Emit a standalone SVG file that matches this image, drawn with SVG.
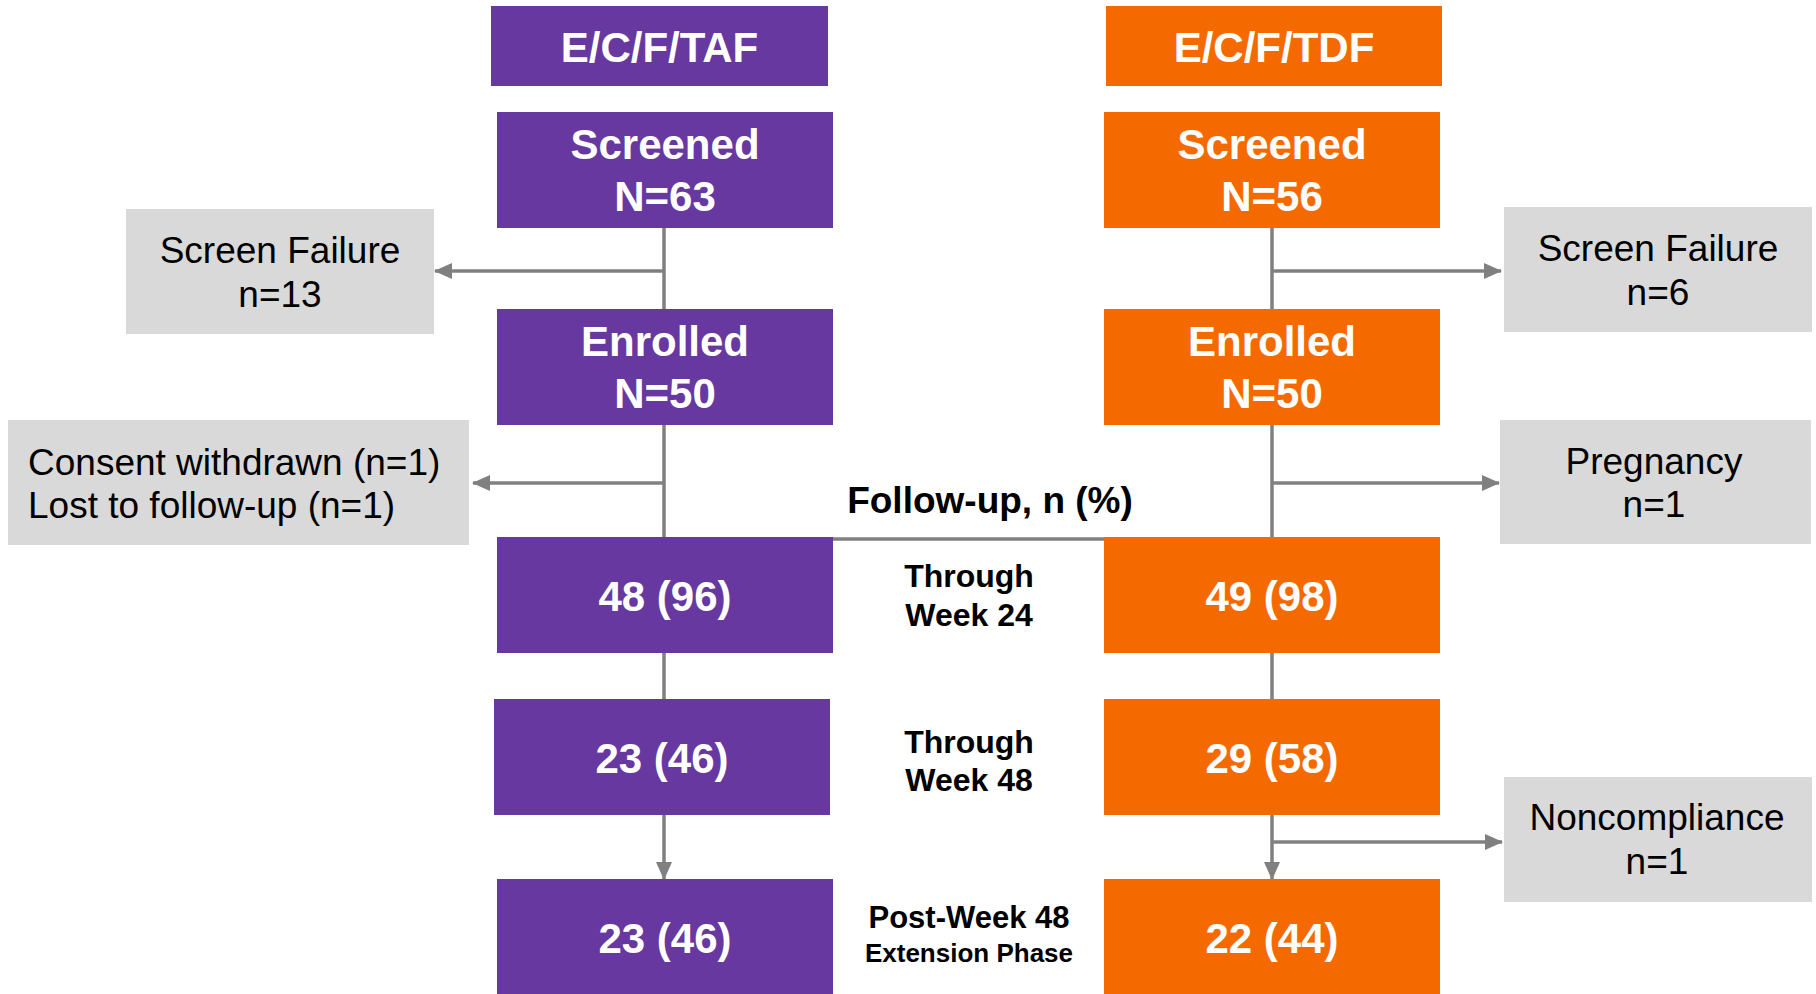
<svg xmlns="http://www.w3.org/2000/svg" width="1816" height="994" viewBox="0 0 1816 994">
<style>
.p{fill:#6638A0}
.o{fill:#F46A00}
.g{fill:#D9D9D9}
.wt{font-family:"Liberation Sans",Arial,sans-serif;font-weight:bold;fill:#fff;text-anchor:middle;font-size:42px}
.gt{font-family:"Liberation Sans",Arial,sans-serif;fill:#000;text-anchor:middle;font-size:37px}
.ls{text-anchor:start}
.bt{font-family:"Liberation Sans",Arial,sans-serif;font-weight:bold;fill:#000;text-anchor:middle}
.ln{stroke:#808080;stroke-width:3.5;fill:none}
</style>
<defs>
<marker id="ah" markerUnits="userSpaceOnUse" markerWidth="18" markerHeight="16" refX="17" refY="8" orient="auto">
<path d="M0,0 L18,8 L0,16 Z" fill="#808080"/>
</marker>
</defs>
<g id="connectors">
<line class="ln" x1="664" y1="228" x2="664" y2="309"/>
<line class="ln" x1="664" y1="425" x2="664" y2="537"/>
<line class="ln" x1="664" y1="653" x2="664" y2="699"/>
<line class="ln" x1="664" y1="815" x2="664" y2="879" marker-end="url(#ah)"/>
<line class="ln" x1="664" y1="271" x2="435" y2="271" marker-end="url(#ah)"/>
<line class="ln" x1="664" y1="483" x2="473" y2="483" marker-end="url(#ah)"/>
<line class="ln" x1="1272" y1="228" x2="1272" y2="309"/>
<line class="ln" x1="1272" y1="425" x2="1272" y2="537"/>
<line class="ln" x1="1272" y1="653" x2="1272" y2="699"/>
<line class="ln" x1="1272" y1="815" x2="1272" y2="879" marker-end="url(#ah)"/>
<line class="ln" x1="1272" y1="271" x2="1501" y2="271" marker-end="url(#ah)"/>
<line class="ln" x1="1272" y1="483" x2="1499" y2="483" marker-end="url(#ah)"/>
<line class="ln" x1="1272" y1="842" x2="1502" y2="842" marker-end="url(#ah)"/>
<line class="ln" x1="833" y1="539" x2="1104" y2="539"/>
</g>
<g id="hdr-taf"><rect class="p" x="491" y="6" width="337" height="80"/><text class="wt" x="659.5" y="62">E/C/F/TAF</text></g>
<g id="hdr-tdf"><rect class="o" x="1106" y="6" width="336" height="80"/><text class="wt" x="1274" y="62">E/C/F/TDF</text></g>
<g id="screened-taf"><rect class="p" x="497" y="112" width="336" height="116"/><text class="wt" x="665" y="159">Screened</text><text class="wt" x="665" y="211">N=63</text></g>
<g id="screened-tdf"><rect class="o" x="1104" y="112" width="336" height="116"/><text class="wt" x="1272" y="159">Screened</text><text class="wt" x="1272" y="211">N=56</text></g>
<g id="enrolled-taf"><rect class="p" x="497" y="309" width="336" height="116"/><text class="wt" x="665" y="356">Enrolled</text><text class="wt" x="665" y="408">N=50</text></g>
<g id="enrolled-tdf"><rect class="o" x="1104" y="309" width="336" height="116"/><text class="wt" x="1272" y="356">Enrolled</text><text class="wt" x="1272" y="408">N=50</text></g>
<g id="sf-taf"><rect class="g" x="126" y="209" width="308" height="125"/><text class="gt" x="280" y="263">Screen Failure</text><text class="gt" x="280" y="307">n=13</text></g>
<g id="sf-tdf"><rect class="g" x="1504" y="207" width="308" height="125"/><text class="gt" x="1658" y="261">Screen Failure</text><text class="gt" x="1658" y="305">n=6</text></g>
<g id="withdrawn-taf"><rect class="g" x="8" y="420" width="461" height="125"/><text class="gt ls" x="28" y="475">Consent withdrawn (n=1)</text><text class="gt ls" x="28" y="518">Lost to follow-up (n=1)</text></g>
<g id="preg-tdf"><rect class="g" x="1500" y="420" width="311" height="124"/><text class="gt" x="1654" y="474">Pregnancy</text><text class="gt" x="1654" y="517">n=1</text></g>
<g id="nonc-tdf"><rect class="g" x="1504" y="777" width="308" height="125"/><text class="gt" x="1657" y="830">Noncompliance</text><text class="gt" x="1657" y="874">n=1</text></g>
<g id="followup-label"><text class="bt" x="990" y="513" font-size="37">Follow-up, n (%)</text></g>
<g id="w24-taf"><rect class="p" x="497" y="537" width="336" height="116"/><text class="wt" x="665" y="611">48 (96)</text></g>
<g id="w24-tdf"><rect class="o" x="1104" y="537" width="336" height="116"/><text class="wt" x="1272" y="611">49 (98)</text></g>
<g id="w24-label"><text class="bt" x="969" y="587" font-size="32">Through</text><text class="bt" x="969" y="626" font-size="32">Week 24</text></g>
<g id="w48-taf"><rect class="p" x="494" y="699" width="336" height="116"/><text class="wt" x="662" y="773">23 (46)</text></g>
<g id="w48-tdf"><rect class="o" x="1104" y="699" width="336" height="116"/><text class="wt" x="1272" y="773">29 (58)</text></g>
<g id="w48-label"><text class="bt" x="969" y="753" font-size="32">Through</text><text class="bt" x="969" y="791" font-size="32">Week 48</text></g>
<g id="ext-taf"><rect class="p" x="497" y="879" width="336" height="115"/><text class="wt" x="665" y="953">23 (46)</text></g>
<g id="ext-tdf"><rect class="o" x="1104" y="879" width="336" height="115"/><text class="wt" x="1272" y="953">22 (44)</text></g>
<g id="ext-label"><text class="bt" x="969" y="928" font-size="31">Post-Week 48</text><text class="bt" x="969" y="962" font-size="26">Extension Phase</text></g>
</svg>
